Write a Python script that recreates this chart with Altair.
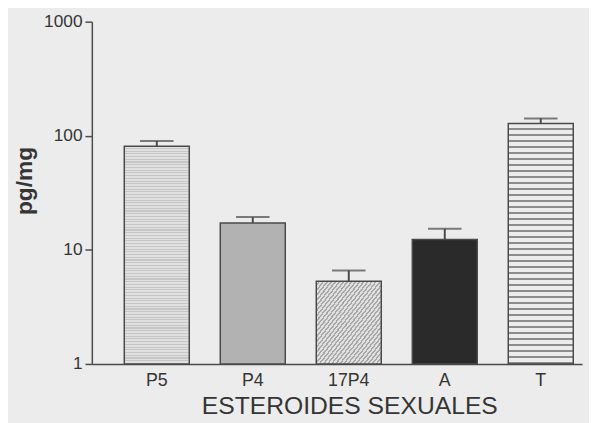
import altair as alt
import pandas as pd

categories = ["P5", "P4", "17P4", "A", "T"]
values = [81, 17.2, 5.3, 12.3, 128]
err_top = [90, 19.4, 6.6, 15.3, 142]
base = [1, 1, 1, 1, 1]

df = pd.DataFrame({"cat": categories, "v": values, "e": err_top, "b": base})

FONT = "Liberation Sans"
INK = "#353535"
LINE = "#4a4a4a"


def stripes(light, dark, n, frac, x2=0, y2=1):
    stops = []
    for i in range(n):
        a = i / n
        m = (i + frac) / n
        z = (i + 1) / n
        stops += [alt.GradientStop(offset=a, color=light),
                  alt.GradientStop(offset=m, color=light),
                  alt.GradientStop(offset=m, color=dark),
                  alt.GradientStop(offset=z, color=dark)]
    return alt.Gradient(gradient="linear", stops=stops, x1=0, y1=0, x2=x2, y2=y2)


fills = {
    "P5": stripes("#e0e0e0", "#c6c6c6", 80, 0.6),
    "P4": "#b2b2b2",
    "17P4": stripes("#e0e0e0", "#a8a8a8", 32, 0.55, x2=1, y2=1),
    "A": "#2a2a2a",
    "T": stripes("#ececec", "#8c8c8c", 40, 0.72),
}

xenc = alt.X(
    "cat:N", sort=categories,
    scale=alt.Scale(paddingInner=0.323, paddingOuter=0.215, align=0.786),
    axis=alt.Axis(
        title="ESTEROIDES SEXUALES", labelAngle=0, ticks=False,
        labelFontSize=18, labelPadding=8, labelColor=INK, labelFont=FONT,
        titleFontSize=25, titleFont=FONT, titleColor=INK, titleFontWeight="normal",
        titleX=261, titleY=42, titleBaseline="middle", titleAlign="center",
        domainColor=LINE, domainWidth=1.5,
    ),
)
yscale = alt.Scale(type="log", domain=[1, 1000], nice=False)
yaxis = alt.Axis(
    title="pg/mg", values=[1, 10, 100, 1000], format="d", grid=False,
    labelFontSize=17.5, labelFont=FONT, labelColor=INK, labelPadding=3,
    tickSize=7, tickColor=LINE, tickWidth=1.5, domainColor=LINE, domainWidth=1.5,
    titleFontSize=23, titleFont=FONT, titleColor=INK, titleFontWeight="bold",
    titleAngle=270, titleX=-68, titleY=161, titleAlign="center", titleBaseline="middle",
)

layers = []
for c in categories:
    layers.append(
        alt.Chart(df).transform_filter(alt.datum.cat == c)
        .mark_bar(fill=fills[c], stroke=LINE, strokeWidth=1.5)
        .encode(x=xenc, y=alt.Y("v:Q", scale=yscale, axis=yaxis), y2="b:Q")
    )

rule = alt.Chart(df).mark_rule(color=LINE, strokeWidth=2).encode(
    x=alt.X("cat:N", sort=categories), y=alt.Y("v:Q", scale=yscale), y2="e:Q")
cap = alt.Chart(df).mark_tick(color=LINE, thickness=2, size=34).encode(
    x=alt.X("cat:N", sort=categories), y=alt.Y("e:Q", scale=yscale))

chart = alt.layer(*layers, rule, cap).properties(
    width=497, height=347,
    autosize=alt.AutoSizeParams(type="none"),
    padding={"left": 85, "top": 11, "right": 7, "bottom": 57},
    background="#ececec",
).configure_view(stroke=None)

chart.save("out.html", embed_options={"renderer": "svg", "actions": False})
